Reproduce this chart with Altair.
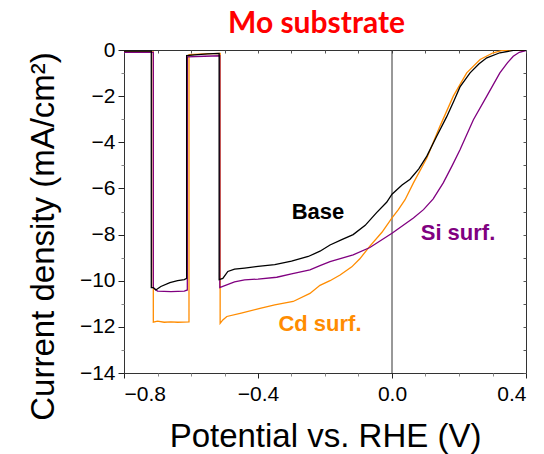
import altair as alt
import pandas as pd

# ---- data ----
base_v = [-0.8, -0.7185, -0.7185, -0.7125, -0.705, -0.69, -0.663, -0.64, -0.62, -0.613,
          -0.613, -0.58, -0.55, -0.516,
          -0.516, -0.505, -0.49, -0.47, -0.44, -0.40, -0.35, -0.30, -0.25, -0.215, -0.185,
          -0.15, -0.116, -0.08, -0.046, -0.016, 0.0, 0.03, 0.054, 0.08, 0.104, 0.133, 0.163,
          0.185, 0.203, 0.233, 0.26, 0.283, 0.322, 0.362, 0.4]
base_j = [-0.05, -0.05, -10.3, -10.3, -10.4, -10.25, -10.08, -10.0, -9.95, -9.9,
          -0.24, -0.2, -0.17, -0.15,
          -9.95, -9.9, -9.6, -9.5, -9.45, -9.38, -9.3, -9.15, -8.95, -8.72, -8.45,
          -8.22, -8.0, -7.6, -7.05, -6.6, -6.25, -5.85, -5.6, -5.15, -4.6, -3.75, -2.9,
          -2.2, -1.6, -0.99, -0.6, -0.34, -0.12, -0.02, 0.0]

si_v = [-0.8, -0.7125, -0.7125, -0.70, -0.66, -0.62, -0.611,
        -0.611, -0.56, -0.514,
        -0.514, -0.505, -0.47, -0.44, -0.40, -0.344, -0.30, -0.245, -0.215, -0.185,
        -0.116, -0.066, 0.0, 0.064, 0.094, 0.123, 0.153, 0.18, 0.203, 0.243, 0.283,
        0.322, 0.345, 0.362, 0.38, 0.4]
si_j = [-0.1, -0.1, -10.3, -10.45, -10.47, -10.45, -10.4,
        -0.3, -0.27, -0.25,
        -10.3, -10.25, -10.05, -9.96, -9.93, -9.85, -9.7, -9.53, -9.35, -9.17,
        -8.88, -8.56, -7.94, -7.28, -6.92, -6.45, -5.76, -5.0, -4.32, -3.02, -2.0,
        -0.99, -0.55, -0.27, -0.1, -0.02]

cd_v = [-0.8, -0.7125, -0.7125, -0.70, -0.68, -0.66, -0.64, -0.606,
        -0.606, -0.56, -0.513,
        -0.513, -0.505, -0.493, -0.45, -0.394, -0.35, -0.295, -0.245, -0.215, -0.185,
        -0.155, -0.12, -0.096, -0.066, -0.03, 0.0, 0.019, 0.039, 0.064, 0.104, 0.143,
        0.183, 0.223, 0.263, 0.302, 0.33, 0.4]
cd_j = [-0.08, -0.08, -11.8, -11.75, -11.8, -11.78, -11.8, -11.78,
        -0.2, -0.17, -0.15,
        -11.85, -11.7, -11.55, -11.4, -11.2, -11.05, -10.9, -10.55, -10.2, -10.0,
        -9.75, -9.4, -9.05, -8.5, -7.9, -7.28, -6.92, -6.49, -5.76, -4.68, -3.31,
        -2.0, -0.99, -0.41, -0.12, -0.02, 0.0]

series_names = ["Cd surf.", "Si surf.", "Base"]
label_v = [-0.215, 0.197, -0.221]
label_j = [-11.88, -7.93, -7.02]

x_ticks = [-0.8, -0.7, -0.6, -0.5, -0.4, -0.3, -0.2, -0.1, 0.0, 0.1, 0.2, 0.3, 0.4]
y_ticks = list(range(-14, 1))
zero_line = [0.0]

# ---- tables ----
rows = []
for name, vs, js in [("Cd surf.", cd_v, cd_j), ("Si surf.", si_v, si_j), ("Base", base_v, base_j)]:
    for i, (v, j) in enumerate(zip(vs, js)):
        rows.append({"series": name, "V": v, "J": j, "idx": i})
df = pd.DataFrame(rows)
labels_df = pd.DataFrame({"series": series_names, "V": label_v, "J": label_j})
zero_df = pd.DataFrame({"V": zero_line})

FONT = "Liberation Sans"
xscale = alt.Scale(domain=[-0.8, 0.4], nice=False, zero=False)
yscale = alt.Scale(domain=[-14, 0], nice=False, zero=False)
cscale = alt.Scale(domain=series_names, range=["#FF8C00", "#800080", "#000000"])

x_major = "round(datum.value*10) % 4 == 0"
y_major = "datum.value % 2 == 0"

x_bottom = alt.Axis(
    orient="bottom", values=x_ticks, format=".1f",
    labelExpr=f"{x_major} ? datum.label : ''",
    tickSize={"condition": {"test": x_major, "value": 5}, "value": 3},
    tickColor={"condition": {"test": x_major, "value": "#222222"}, "value": "#888888"},
    labelPadding=5, domain=False, grid=False,
    labelFont=FONT, labelFontSize=21, labelColor="#000000",
    title="Potential vs. RHE (V)", titleX=201, titleY=73,
    titleAlign="center", titleBaseline="alphabetic",
    titleFont=FONT, titleFontSize=33, titleFontWeight="normal", titleColor="#000000",
)
y_left = alt.Axis(
    orient="left", values=y_ticks, format="d",
    labelExpr=f"{y_major} ? datum.label : ''",
    tickSize={"condition": {"test": y_major, "value": 6}, "value": 3},
    tickColor={"condition": {"test": y_major, "value": "#222222"}, "value": "#888888"},
    labelPadding=3, domain=False, grid=False,
    labelFont=FONT, labelFontSize=21, labelColor="#000000",
    title="Current density (mA/cm²)", titleAngle=270, titleX=-71, titleY=186,
    titleAlign="center", titleBaseline="alphabetic",
    titleFont=FONT, titleFontSize=33, titleFontWeight="normal", titleColor="#000000",
)
# top axis: inward ticks, carries the chart heading as its title
x_top = alt.Axis(orient="top", values=x_ticks, labels=False, domain=False, grid=False,
                 tickSize=3, offset=-3, tickColor="#555555",
                 title="Mo substrate", titleX=192, titleY=-21,
                 titleAlign="center", titleBaseline="alphabetic",
                 titleFont="Lato", titleFontSize=30, titleFontWeight="bold",
                 titleColor="#FF0000")
y_right = alt.Axis(orient="right", values=y_ticks, labels=False, domain=False, grid=False,
                   tickSize=3, offset=-3, tickColor="#555555", title=None)

lines = alt.Chart(df).mark_line(strokeWidth=1.3, clip=True).encode(
    x=alt.X("V:Q", scale=xscale, axis=x_bottom),
    y=alt.Y("J:Q", scale=yscale, axis=y_left),
    color=alt.Color("series:N", scale=cscale, legend=None),
    order=alt.Order("idx:Q"),
)

zero = alt.Chart(zero_df).mark_rule(color="#333333", strokeWidth=1).encode(
    x=alt.X("V:Q", scale=xscale, axis=None),
)

texts = alt.Chart(labels_df).mark_text(
    font=FONT, fontSize=22, fontWeight="bold", align="center", baseline="middle"
).encode(
    x=alt.X("V:Q", scale=xscale, axis=x_top),
    y=alt.Y("J:Q", scale=yscale, axis=y_right),
    text="series:N",
    color=alt.Color("series:N", scale=cscale, legend=None),
)

chart = alt.layer(zero, lines, texts).resolve_axis(
    x="independent", y="independent"
).properties(
    width=402, height=323,
    background="#ffffff",
    autosize=alt.AutoSizeParams(type="none"),
    padding={"left": 124, "top": 50, "right": 18, "bottom": 81},
).configure_view(
    stroke="#333333", strokeWidth=1
)

chart.save("out.html", embed_options={"renderer": "svg", "actions": False})
